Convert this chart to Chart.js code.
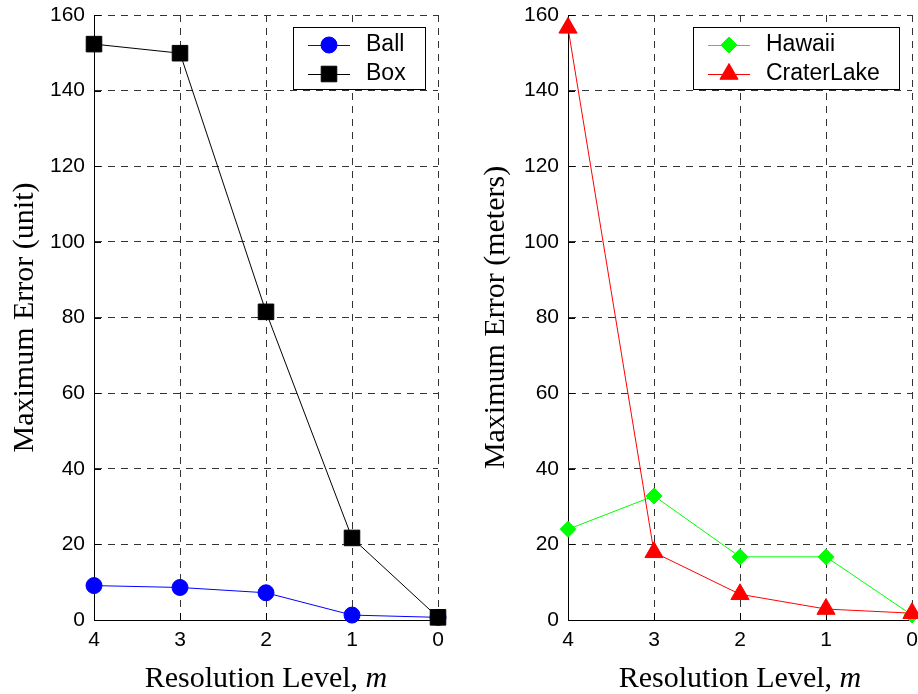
<!DOCTYPE html>
<html>
<head>
<meta charset="utf-8">
<title>Maximum Error vs Resolution Level</title>
<script src="https://cdn.jsdelivr.net/npm/chart.js@4.4.1/dist/chart.umd.min.js"></script>
<style>
  html, body { margin: 0; padding: 0; background: #ffffff; }
  #wrap { position: relative; width: 918px; height: 694px; overflow: hidden; }
  canvas { position: absolute; top: 0; }
  #left { left: 0; }
  #right { left: 459px; }
</style>
</head>
<body>
<div id="wrap">
  <canvas id="left" width="459" height="694"></canvas>
  <canvas id="right" width="459" height="694"></canvas>
</div>
<script>
// Resolution levels shown on the x axis (coarse -> fine)
const levels = [4, 3, 2, 1, 0];
const yTicks = [0, 20, 40, 60, 80, 100, 120, 140, 160];

// Synthetic shapes: maximum error in units
const ball = [9.1, 8.6, 7.2, 1.3, 0.7];
const box = [152.3, 149.9, 81.5, 21.7, 0.7];

// Terrain data sets: maximum error in meters
const hawaii = [24.0, 32.8, 16.7, 16.7, 1.3];
const craterLake = [156.6, 17.9, 6.8, 2.9, 1.8];

const SANS = "'Liberation Sans', Arial, sans-serif";
const SERIF = "'Liberation Serif', 'Times New Roman', serif";

function points(values) {
  return levels.map((lv, i) => ({ x: lv, y: values[i] }));
}

function series(label, values, color, style, radius, order) {
  return {
    label,
    data: points(values),
    order,
    borderColor: color,
    backgroundColor: color,
    borderWidth: 1,
    pointStyle: style,
    pointRadius: radius,
    pointHoverRadius: radius,
    pointBackgroundColor: color,
    pointBorderColor: color,
    pointBorderWidth: 1,
    tension: 0,
    fill: false,
    clip: false
  };
}

// Legend box drawn inside the plot area, top-right corner
const boxLegend = {
  id: 'boxLegend',
  afterDraw(chart) {
    const { ctx, chartArea } = chart;
    const sets = chart.data.datasets;
    ctx.save();
    ctx.font = '23px ' + SANS;
    let maxW = 0;
    sets.forEach(ds => { maxW = Math.max(maxW, ctx.measureText(ds.label).width); });
    const padL = 15, lineLen = 42, gap = 16, padR = 19;
    const w = padL + lineLen + gap + maxW + padR;
    const h = 62;
    const right = chartArea.right - 13;
    const left = Math.round(right - w);
    const top = chartArea.top + 12;
    ctx.fillStyle = '#ffffff';
    ctx.fillRect(left, top, right - left, h);
    ctx.strokeStyle = '#000000';
    ctx.lineWidth = 1;
    ctx.strokeRect(left + 0.5, top + 0.5, right - left, h);
    sets.forEach((ds, i) => {
      const cy = top + 18 + i * 29;
      const x1 = left + padL, x2 = x1 + lineLen;
      ctx.strokeStyle = ds.borderColor;
      ctx.lineWidth = 1;
      ctx.beginPath();
      ctx.moveTo(x1, cy + 0.5);
      ctx.lineTo(x2, cy + 0.5);
      ctx.stroke();
      ctx.fillStyle = ds.pointBackgroundColor;
      ctx.strokeStyle = ds.pointBorderColor;
      Chart.helpers.drawPoint(ctx, {
        pointStyle: ds.pointStyle,
        radius: ds.pointRadius,
        rotation: 0,
        borderWidth: 1
      }, (x1 + x2) / 2, cy);
      ctx.fillStyle = '#000000';
      ctx.textBaseline = 'alphabetic';
      ctx.textAlign = 'left';
      ctx.fillText(ds.label, x2 + gap, cy + 6);
    });
    ctx.restore();
  }
};

// Inward tick marks on the left and bottom axes
const innerTicks = {
  id: 'innerTicks',
  beforeDatasetsDraw(chart) {
    const { ctx, chartArea, scales } = chart;
    ctx.save();
    ctx.strokeStyle = '#000000';
    ctx.lineWidth = 1;
    ctx.beginPath();
    scales.y.ticks.forEach(t => {
      const y = Math.round(scales.y.getPixelForValue(t.value)) + 0.5;
      ctx.moveTo(chartArea.left, y);
      ctx.lineTo(chartArea.left + 7, y);
    });
    scales.x.ticks.forEach(t => {
      const x = Math.round(scales.x.getPixelForValue(t.value)) + 0.5;
      ctx.moveTo(x, chartArea.bottom);
      ctx.lineTo(x, chartArea.bottom - 7);
    });
    ctx.stroke();
    ctx.restore();
  }
};

// X axis title with an italic symbol for the level
const xTitle = {
  id: 'xTitle',
  afterDraw(chart) {
    const { ctx, chartArea } = chart;
    const plain = 'Resolution Level, ';
    const sym = 'm';
    ctx.save();
    ctx.fillStyle = '#000000';
    ctx.textBaseline = 'alphabetic';
    ctx.textAlign = 'left';
    ctx.font = '30px ' + SERIF;
    const w1 = ctx.measureText(plain).width;
    ctx.font = 'italic 30px ' + SERIF;
    const w2 = ctx.measureText(sym).width;
    const cx = (chartArea.left + chartArea.right) / 2;
    const x0 = cx - (w1 + w2) / 2;
    const y = 687;
    ctx.font = '30px ' + SERIF;
    ctx.fillText(plain, x0, y);
    ctx.font = 'italic 30px ' + SERIF;
    ctx.fillText(sym, x0 + w1, y);
    ctx.restore();
  }
};

function makePanel(id, datasets, yLabel, axisWidth, titlePad, rightPad) {
  return new Chart(document.getElementById(id), {
    type: 'line',
    data: { datasets },
    options: {
      responsive: false,
      animation: false,
      events: [],
      layout: {
        autoPadding: false,
        padding: { top: 15, right: rightPad, bottom: 0, left: 0 }
      },
      plugins: { legend: { display: false }, tooltip: { enabled: false } },
      scales: {
        x: {
          type: 'linear',
          reverse: true,
          min: 0,
          max: 4,
          afterBuildTicks(scale) { scale.ticks = levels.map(v => ({ value: v })); },
          afterFit(scale) {
            scale.height = 74;
            scale.paddingLeft = 0;
            scale.paddingRight = 0;
          },
          ticks: {
            color: '#000000',
            font: { family: SANS, size: 21 },
            padding: 8,
            maxRotation: 0,
            autoSkip: false
          },
          grid: { color: '#333333', lineWidth: 1, drawTicks: false },
          border: { display: true, color: '#000000', width: 1, dash: [7, 6] }
        },
        y: {
          min: 0,
          max: 160,
          afterBuildTicks(scale) { scale.ticks = yTicks.map(v => ({ value: v })); },
          afterFit(scale) {
            scale.width = axisWidth;
            scale.paddingTop = 0;
            scale.paddingBottom = 0;
          },
          ticks: {
            color: '#000000',
            font: { family: SANS, size: 21 },
            padding: 9,
            autoSkip: false
          },
          grid: { color: '#333333', lineWidth: 1, drawTicks: false },
          border: { display: true, color: '#000000', width: 1, dash: [7, 6] },
          title: {
            display: true,
            text: yLabel,
            color: '#000000',
            font: { family: SERIF, size: 30 },
            padding: { top: titlePad, bottom: 0 }
          }
        }
      }
    },
    plugins: [innerTicks, boxLegend, xTitle]
  });
}

makePanel('left', [
  series('Ball', ball, '#0000ff', 'circle', 8, 1),
  series('Box', box, '#000000', 'rect', 11, 0)
], 'Maximum Error (unit)', 94, 7, 21);

makePanel('right', [
  series('Hawaii', hawaii, '#00ff00', 'rectRot', 8, 1),
  series('CraterLake', craterLake, '#ff0000', 'triangle', 10.5, 0)
], 'Maximum Error (meters)', 109, 19, 6);
</script>
</body>
</html>
